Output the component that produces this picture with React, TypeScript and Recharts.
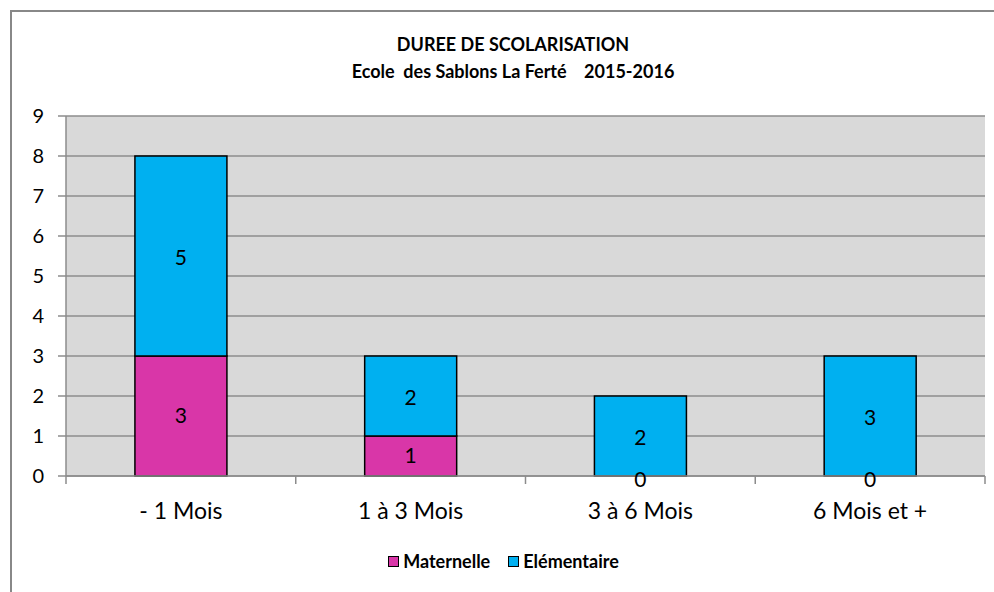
import React from 'react'
import { BarChart, Bar, XAxis, YAxis, CartesianGrid, LabelList, Legend } from 'recharts'

const categories = ['- 1 Mois', '1 à 3 Mois', '3 à 6 Mois', '6 Mois et +']
const maternelle = [3, 1, 0, 0]
const elementaire = [5, 2, 2, 3]
const yTicks = [0, 1, 2, 3, 4, 5, 6, 7, 8, 9]

const data = categories.map((c, i) => ({ name: c, maternelle: maternelle[i], elementaire: elementaire[i] }))

const W = 994
const H = 592
const LEFT = 66
const RIGHT = 9
const BAND = (W - LEFT - RIGHT) / categories.length
const FONT = 'Lato, "Open Sans", sans-serif'
const GRID = '#8c8c8c'
const MAT_COLOR = '#d936a8'
const ELE_COLOR = '#00b0f0'
const LABEL_SIZE = 21

const CatTick = (props: any) => {
    const { x, y, payload, index } = props
    const y0 = y - 8
    const half = BAND / 2
    return (
        <g>
            <line x1={x - half} y1={y0} x2={x - half} y2={y0 + 8} stroke={GRID} strokeWidth={1.5} />
            {index === categories.length - 1 && (
                <line x1={x + half} y1={y0} x2={x + half} y2={y0 + 8} stroke={GRID} strokeWidth={1.5} />
            )}
            <text x={x} y={y + 26} textAnchor="middle" dominantBaseline="central" fontSize={23} fill="#000" fontFamily={FONT}>
                {payload.value}
            </text>
        </g>
    )
}

// label du haut + "0" au pied quand la maternelle est vide
const EleLabel = (props: any) => {
    const { x, y, width, height, value, index } = props
    const cx = x + width / 2
    return (
        <g>
            <text x={cx} y={y + height / 2} textAnchor="middle" dominantBaseline="central" fontSize={LABEL_SIZE} fill="#000" fontFamily={FONT}>
                {value}
            </text>
            {maternelle[index] === 0 && (
                <text x={cx} y={y + height + 2} textAnchor="middle" dominantBaseline="central" fontSize={LABEL_SIZE} fill="#000" fontFamily={FONT}>
                    {maternelle[index]}
                </text>
            )}
        </g>
    )
}

const LegendContent = () => (
    <div style={{ display: 'flex', justifyContent: 'center', alignItems: 'center', height: 22, fontFamily: FONT, fontWeight: 700, fontSize: 18, paddingLeft: 40 }}>
        {[
            { label: 'Maternelle', color: MAT_COLOR },
            { label: 'Elémentaire', color: ELE_COLOR },
        ].map(it => (
            <span key={it.label} style={{ display: 'inline-flex', alignItems: 'center', marginRight: 18 }}>
                <span style={{ width: 9, height: 9, background: it.color, border: '1.5px solid #000', marginRight: 4, display: 'inline-block' }} />
                {it.label}
            </span>
        ))}
    </div>
)

export default function App() {
    return (
        <div style={{ position: 'absolute', left: 0, top: 0, width: W, height: H, background: '#fff', overflow: 'hidden' }}>
            <div style={{ position: 'absolute', left: 10, top: 10, width: 1100, height: 700, border: '2px solid #888' }} />
            <div style={{ position: 'absolute', left: 0, width: 1026, top: 31, textAlign: 'center', fontFamily: FONT, fontWeight: 700, fontSize: 18, lineHeight: '27px', color: '#000' }}>
                DUREE DE SCOLARISATION
                <br />
                Ecole&nbsp; des Sablons La Ferté&nbsp;&nbsp;&nbsp; 2015-2016
            </div>
            <BarChart
                width={W}
                height={H}
                data={data}
                barCategoryGap="30%"
                margin={{ top: 116, right: RIGHT, left: 0, bottom: 20 }}
                style={{ position: 'absolute', left: 0, top: 0 }}
            >
                <CartesianGrid vertical={false} fill="#d9d9d9" stroke={GRID} strokeWidth={1.5} />
                <XAxis
                    dataKey="name"
                    height={74}
                    tickSize={8}
                    tickMargin={0}
                    tickLine={false}
                    tick={<CatTick />}
                    interval={0}
                    axisLine={{ stroke: GRID, strokeWidth: 1.5 }}
                />
                <YAxis
                    width={LEFT}
                    domain={[0, 9]}
                    ticks={yTicks}
                    interval={0}
                    tickSize={8}
                    tickMargin={14}
                    tick={{ fontSize: 20, fill: '#000', fontFamily: FONT }}
                    tickLine={{ stroke: GRID, strokeWidth: 1.5 }}
                    axisLine={{ stroke: GRID, strokeWidth: 1.5 }}
                />
                <Legend content={<LegendContent />} verticalAlign="bottom" />
                <Bar dataKey="maternelle" stackId="a" fill={MAT_COLOR} stroke="#000" strokeWidth={1.5} isAnimationActive={false}>
                    <LabelList dataKey="maternelle" position="center" fill="#000" fontSize={LABEL_SIZE} fontFamily={FONT} />
                </Bar>
                <Bar dataKey="elementaire" stackId="a" fill={ELE_COLOR} stroke="#000" strokeWidth={1.5} isAnimationActive={false}>
                    <LabelList dataKey="elementaire" content={<EleLabel />} />
                </Bar>
            </BarChart>
        </div>
    )
}
